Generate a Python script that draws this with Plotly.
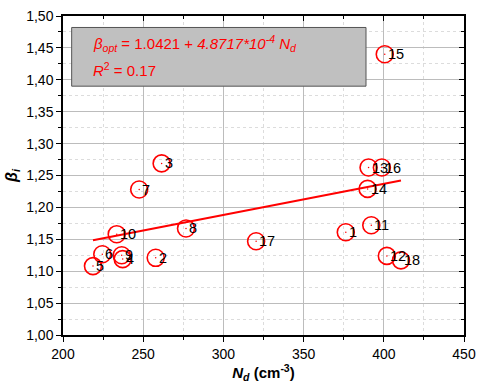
import plotly.graph_objects as go
import numpy as np

labels = ["1","2","3","4","5","6","7","8","9","10","11","12","13","14","15","16","17","18"]
nd = [376.3, 257.8, 261.5, 237.2, 218.7, 224.5, 247.5, 276.7, 236.6, 233.5,
      392.2, 401.9, 390.5, 389.9, 400.6, 398.8, 320.4, 410.7]
beta = [1.161, 1.121, 1.269, 1.119, 1.108, 1.1265, 1.228, 1.167, 1.125, 1.158,
        1.172, 1.124, 1.2625, 1.229, 1.440, 1.2625, 1.147, 1.117]
intercept = 1.0421
slope = 4.8717e-4
r2 = 0.17

yticks = [1.00, 1.05, 1.10, 1.15, 1.20, 1.25, 1.30, 1.35, 1.40, 1.45, 1.50]
yticktext = [f"{v:.2f}".replace(".", ",") for v in yticks]
xticks = [200, 250, 300, 350, 400, 450]

FONT = "Liberation Sans, Arial, sans-serif"
RED = "#ff0000"

fx = np.array([min(nd), max(nd)])
fy = intercept + slope * fx

fig = go.Figure()
fig.add_trace(go.Scatter(x=fx, y=fy, mode="lines",
                         line=dict(color=RED, width=2), showlegend=False, hoverinfo="skip"))
fig.add_trace(go.Scatter(x=nd, y=beta, mode="markers",
                         marker=dict(symbol="circle-open", size=17, color=RED,
                                     line=dict(color=RED, width=1.6)),
                         showlegend=False))
fig.add_trace(go.Scatter(x=nd, y=beta, mode="markers",
                         marker=dict(size=1.5, color=RED),
                         showlegend=False))
for xi, yi, lab in zip(nd, beta, labels):
    fig.add_annotation(x=xi, y=yi, text=lab, showarrow=False, xanchor="left",
                       yanchor="middle", xshift=1,
                       font=dict(family=FONT, size=14.5, color="black"))

# equation box
fig.add_shape(type="rect", xref="x", yref="y", x0=205.4, x1=388.9, y0=1.390, y1=1.482,
              fillcolor="#c0c0c0", line=dict(color="#555555", width=1), layer="above")
fig.add_annotation(xref="x", yref="y", x=217.5, y=1.4575, xanchor="left", yanchor="middle",
                   showarrow=False,
                   text="<i>β<sub>opt</sub></i> = 1.0421 + <i>4.8717*10<sup>-4</sup> N<sub>d</sub></i>",
                   font=dict(family=FONT, size=15, color=RED))
fig.add_annotation(xref="x", yref="y", x=217.5, y=1.4165, xanchor="left", yanchor="middle",
                   showarrow=False,
                   text=f"<i>R</i><sup>2</sup> = {r2:.2f}",
                   font=dict(family=FONT, size=15, color=RED))

axis_common = dict(showline=True, linecolor="black", linewidth=1.5,
                   gridcolor="#bcbcbc", gridwidth=1, zeroline=False,
                   ticks="outside", ticklen=5, tickwidth=1.2, tickcolor="black",
                   ticklabeloverflow="allow",
                   tickfont=dict(family=FONT, size=14, color="black"))

fig.update_xaxes(range=[200, 450], tickvals=xticks,
                 minor=dict(dtick=25, tick0=200, ticks="outside", ticklen=3, tickcolor="black",
                            showgrid=True, gridcolor="#dcdcdc", griddash="dot"),
                 title=dict(text="<b><i>N<sub>d</sub></i> (cm<sup>-3</sup>)</b>",
                            font=dict(family=FONT, size=15, color="black"), standoff=7),
                 **axis_common)
fig.update_yaxes(range=[1.0, 1.5], tickvals=yticks, ticktext=yticktext,
                 minor=dict(dtick=0.025, tick0=1.0, ticks="outside", ticklen=3, tickcolor="black",
                            showgrid=True, gridcolor="#dcdcdc", griddash="dot"),
                 title=dict(text="<b><i>β<sub>i</sub></i></b>",
                            font=dict(family=FONT, size=16, color="black"), standoff=5),
                 **axis_common)

# mirrored axes with inside ticks on top/right
fig.update_layout(
    xaxis2=dict(overlaying="x", side="top", range=[200, 450], tickvals=xticks,
                showticklabels=False, showgrid=False, showline=True, linecolor="black",
                linewidth=1.5, ticks="inside", ticklen=5, tickcolor="black", zeroline=False,
                minor=dict(dtick=25, tick0=200, ticks="inside", ticklen=3, tickcolor="black")),
    yaxis2=dict(overlaying="y", side="right", range=[1.0, 1.5], tickvals=yticks,
                showticklabels=False, showgrid=False, showline=True, linecolor="black",
                linewidth=1.5, ticks="inside", ticklen=5, tickcolor="black", zeroline=False,
                minor=dict(dtick=0.025, tick0=1.0, ticks="inside", ticklen=3, tickcolor="black")),
)
fig.add_trace(go.Scatter(x=[None], y=[None], xaxis="x2", yaxis="y2", showlegend=False))

fig.update_layout(width=484, height=392, margin=dict(l=63, r=14, t=8, b=57),
                  plot_bgcolor="white", paper_bgcolor="white", showlegend=False,
                  font=dict(family=FONT, color="black"))

fig.write_html("out.html", config={"displayModeBar": False},
               post_script="document.body.style.margin='0';document.body.style.overflow='hidden';")
